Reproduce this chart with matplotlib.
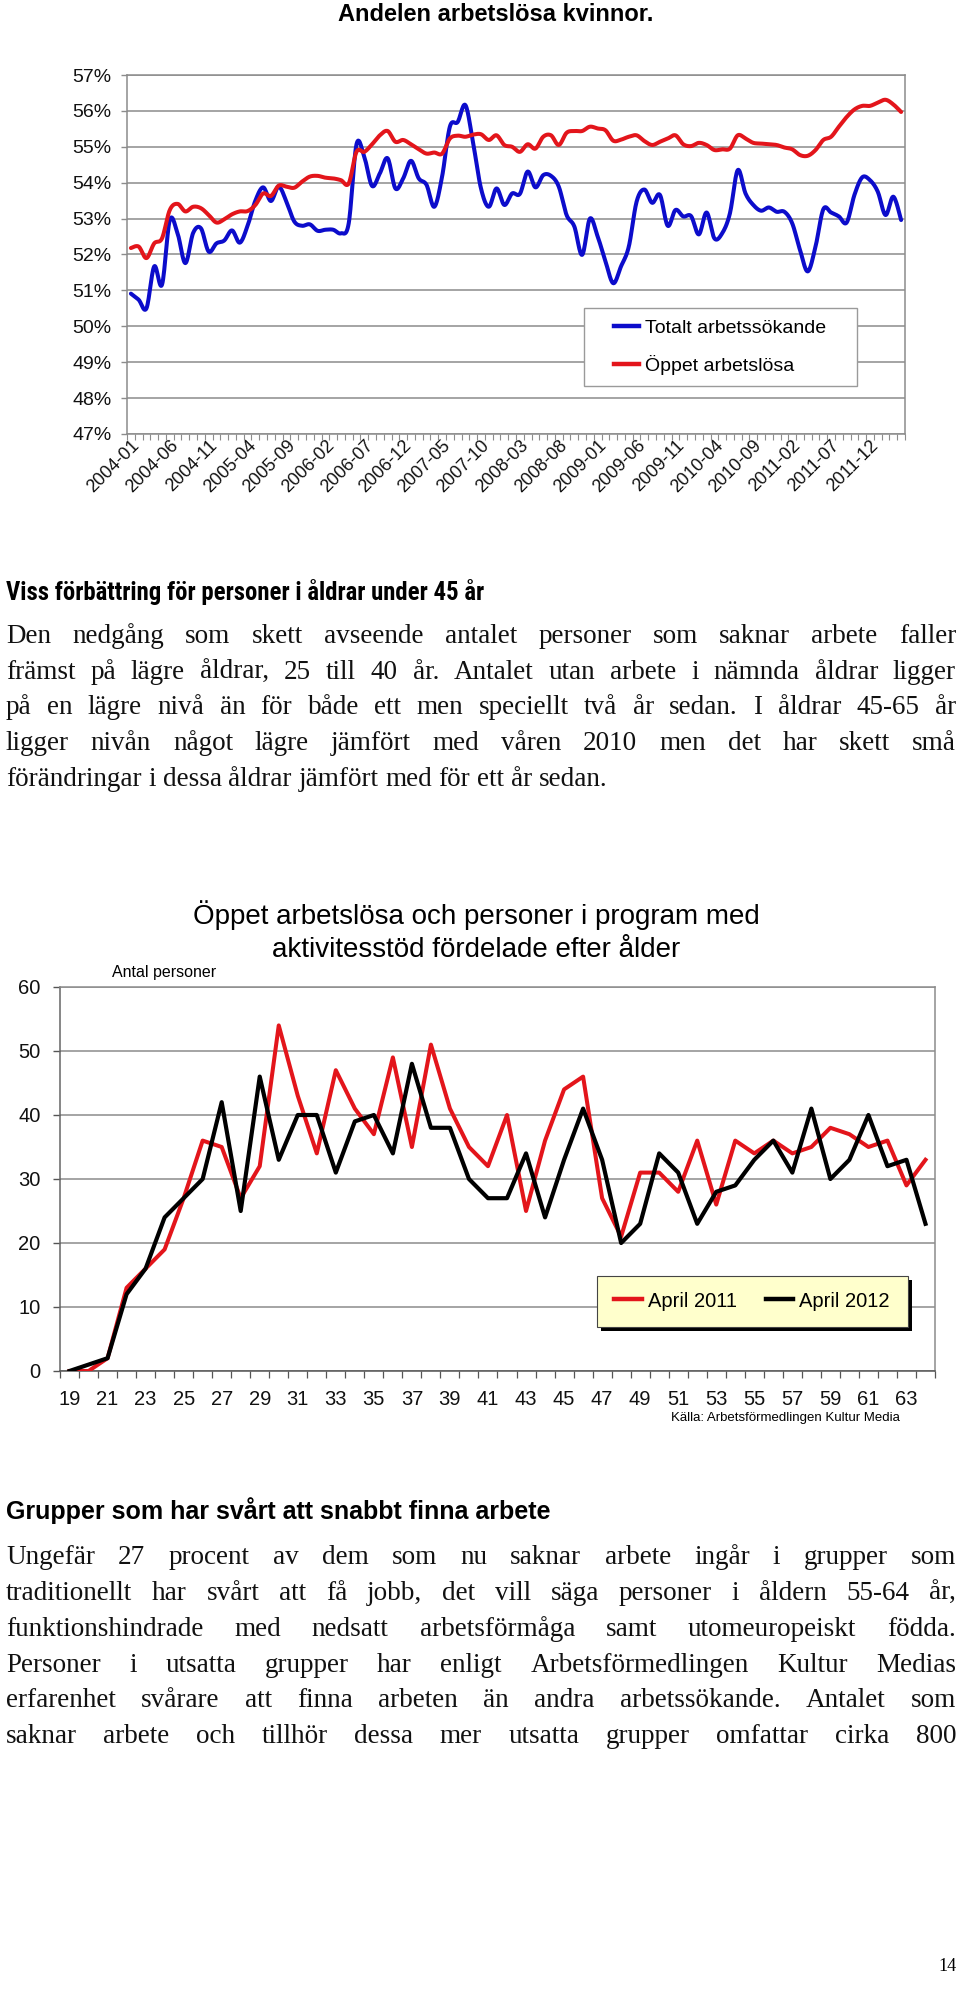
import matplotlib
matplotlib.use('Agg')
import matplotlib.pyplot as plt
import numpy as np
from matplotlib.patches import Rectangle
from matplotlib.lines import Line2D
from matplotlib import font_manager
from matplotlib.font_manager import FontProperties

W, H = 960, 2001
SANS = 'Liberation Sans'
SERIF = 'Liberation Serif'
plt.rcParams['font.family'] = [SANS, 'DejaVu Sans']


def find_condensed_bold():
    best = None
    for f in font_manager.fontManager.ttflist:
        nm = f.name + ' ' + str(f.fname)
        st = str(f.stretch).lower()
        cond = ('Narrow' in nm or 'Condensed' in nm or 'condensed' in st or 'narrow' in st)
        bold = (f.weight in ('bold', 700, 'heavy', 800) or 'Bold' in str(f.fname))
        if cond and bold and 'Italic' not in str(f.fname) and 'Oblique' not in str(f.fname):
            rank = 0 if ('Liberation' in nm or 'Arimo' in nm) else (1 if 'Roboto' in nm else 2)
            if best is None or rank < best[0]:
                best = (rank, f.fname)
    return best[1] if best else None


COND_BOLD = find_condensed_bold()

# ---------------- data: chart 1 (monthly shares, 2004-01 .. 2012-04) ----------------
months = [f"{y}-{m:02d}" for y in range(2004, 2013) for m in range(1, 13)][:100]
tick_labels = ["2004-01", "2004-06", "2004-11", "2005-04", "2005-09", "2006-02",
               "2006-07", "2006-12", "2007-05", "2007-10", "2008-03", "2008-08",
               "2009-01", "2009-06", "2009-11", "2010-04", "2010-09", "2011-02",
               "2011-07", "2011-12"]
y_ticks = [47, 48, 49, 50, 51, 52, 53, 54, 55, 56, 57]

totalt = [50.91, 50.74, 50.50, 51.67, 51.16, 52.96, 52.59, 51.76, 52.60, 52.73,
          52.08, 52.31, 52.39, 52.67, 52.33, 52.80, 53.50, 53.87, 53.49, 53.89,
          53.47, 52.92, 52.80, 52.84, 52.66, 52.69, 52.69, 52.59, 52.87, 55.07,
          54.72, 53.91, 54.26, 54.68, 53.84, 54.12, 54.61, 54.12, 53.94, 53.33,
          54.17, 55.56, 55.69, 56.16, 55.09, 53.84, 53.33, 53.84, 53.38, 53.70,
          53.69, 54.31, 53.87, 54.21, 54.19, 53.89, 53.10, 52.78, 51.99, 53.00,
          52.50, 51.81, 51.20, 51.67, 52.22, 53.47, 53.81, 53.44, 53.66, 52.80,
          53.24, 53.06, 53.07, 52.56, 53.17, 52.45, 52.59, 53.15, 54.35, 53.70,
          53.38, 53.22, 53.31, 53.19, 53.19, 52.87, 52.13, 51.53, 52.22, 53.26,
          53.17, 53.06, 52.89, 53.66, 54.15, 54.07, 53.75, 53.10, 53.61, 52.96]

oppet = [52.18, 52.22, 51.90, 52.31, 52.45, 53.24, 53.41, 53.20, 53.33, 53.29,
         53.10, 52.89, 52.98, 53.12, 53.20, 53.21, 53.38, 53.70, 53.63, 53.92,
         53.89, 53.86, 54.03, 54.17, 54.19, 54.14, 54.12, 54.07, 53.98, 54.86,
         54.86, 55.07, 55.32, 55.44, 55.14, 55.19, 55.07, 54.93, 54.81, 54.84,
         54.81, 55.23, 55.31, 55.28, 55.34, 55.35, 55.19, 55.32, 55.05, 55.00,
         54.86, 55.07, 54.95, 55.28, 55.32, 55.05, 55.39, 55.44, 55.44, 55.56,
         55.51, 55.46, 55.17, 55.20, 55.28, 55.32, 55.16, 55.05, 55.14, 55.23,
         55.32, 55.07, 55.02, 55.11, 55.05, 54.91, 54.93, 54.95, 55.32, 55.23,
         55.11, 55.09, 55.07, 55.05, 54.98, 54.93, 54.77, 54.75, 54.91, 55.19,
         55.28, 55.56, 55.83, 56.04, 56.14, 56.14, 56.23, 56.31, 56.18, 55.97]

# ---------------- data: chart 2 (persons by age) ----------------
ages = list(range(19, 65))
april_2011 = [0, 0, 2, 13, 16, 19, 27, 36, 35, 27, 32, 54, 43, 34, 47, 41, 37, 49,
              35, 51, 41, 35, 32, 40, 25, 36, 44, 46, 27, 21, 31, 31, 28, 36, 26,
              36, 34, 36, 34, 35, 38, 37, 35, 36, 29, 33]
april_2012 = [0, 1, 2, 12, 16, 24, 27, 30, 42, 25, 46, 33, 40, 40, 31, 39, 40, 34,
              48, 38, 38, 30, 27, 27, 34, 24, 33, 41, 33, 20, 23, 34, 31, 23, 28,
              29, 33, 36, 31, 41, 30, 33, 40, 32, 33, 23]
y2_ticks = [0, 10, 20, 30, 40, 50, 60]

BLUE = '#0C0CCB'
RED = '#E3151B'
GRID = '#8C8C8C'


def smooth(vals, n=14):
    """Excel-like smoothed line (Bezier with 1/6 tangents) through the points."""
    y = np.asarray(vals, float)
    x = np.arange(len(y), dtype=float)
    P = np.column_stack([x, y])
    Pe = np.vstack([P[0], P, P[-1]])
    t = np.linspace(0, 1, n, endpoint=False)[:, None]
    out = []
    for i in range(len(P) - 1):
        p0, p1, p2, p3 = Pe[i], Pe[i + 1], Pe[i + 2], Pe[i + 3]
        c1 = p1 + (p2 - p0) / 6.0
        c2 = p2 - (p3 - p1) / 6.0
        out.append((1 - t) ** 3 * p1 + 3 * (1 - t) ** 2 * t * c1 + 3 * (1 - t) * t ** 2 * c2 + t ** 3 * p2)
    out.append(P[-1:])
    return np.vstack(out)


def fx(x):
    return x / W


def fy(y):
    return 1 - y / H


fig = plt.figure(figsize=(W / 100, H / 100), dpi=100)
fig.patch.set_facecolor('white')

# ================= Chart 1 =================
ax1 = fig.add_axes([fx(127), fy(434), fx(905) - fx(127), fy(75) - fy(434)])
s_tot = smooth(totalt)
s_opp = smooth(oppet)
ax1.plot(s_tot[:, 0], s_tot[:, 1], color=BLUE, lw=2.9, solid_capstyle='round', zorder=3)
ax1.plot(s_opp[:, 0], s_opp[:, 1], color=RED, lw=2.9, solid_capstyle='round', zorder=3)
ax1.set_xlim(-0.5, len(months) - 0.5)
ax1.set_ylim(47, 57)
ax1.set_yticks(y_ticks)
ax1.set_yticklabels([f"{v}%" for v in y_ticks], fontsize=14, color='#111111')
ax1.yaxis.grid(True, color=GRID, lw=1.1)
ax1.set_axisbelow(True)
pos = [months.index(m) for m in tick_labels]
ax1.set_xticks(pos)
ax1.set_xticklabels(tick_labels, rotation=45, ha='right', va='top',
                    rotation_mode='anchor', fontsize=13, color='#111111')
ax1.set_xticks(np.arange(-0.5, len(months), 1), minor=True)
ax1.tick_params(axis='x', which='major', length=0, pad=2)
ax1.tick_params(axis='x', which='minor', length=4, color=GRID, width=0.8)
ax1.tick_params(axis='y', length=4, color=GRID, width=1, pad=7)
for sp in ax1.spines.values():
    sp.set_color(GRID)
    sp.set_linewidth(1.1)

# legend of chart 1
fig.add_artist(Rectangle((fx(584), fy(386)), fx(857) - fx(584), fy(308) - fy(386),
                         transform=fig.transFigure, facecolor='white',
                         edgecolor='#9A9A9A', lw=1.0, zorder=4))
h1 = [Line2D([], [], color=BLUE, lw=3.2), Line2D([], [], color=RED, lw=3.2)]
fig.legend(h1, ['Totalt arbetssökande', 'Öppet arbetslösa'], loc='center',
           bbox_to_anchor=(fx(720), fy(347)), bbox_transform=fig.transFigure,
           frameon=False, fontsize=14, handlelength=1.25, handletextpad=0.3,
           labelspacing=0.95, borderpad=0)

fig.text(fx(496), fy(21), 'Andelen arbetslösa kvinnor.', ha='center', va='baseline',
         fontsize=17, fontweight='bold', family=[SANS, 'DejaVu Sans'])

# ================= Chart 2 =================
ax2 = fig.add_axes([fx(60), fy(1371), fx(935) - fx(60), fy(987) - fy(1371)])
xi = np.arange(len(ages))
ax2.plot(xi, april_2011, color=RED, lw=2.9, zorder=3)
ax2.plot(xi, april_2012, color='black', lw=3.0, zorder=3)
ax2.set_xlim(-0.5, len(ages) - 0.5)
ax2.set_ylim(0, 60)
ax2.set_yticks(y2_ticks)
ax2.set_yticklabels([str(v) for v in y2_ticks], fontsize=14.5, color='#111111')
ax2.yaxis.grid(True, color=GRID, lw=1.1)
ax2.set_axisbelow(True)
ax2.set_xticks(xi[::2])
ax2.set_xticklabels([str(a) for a in ages[::2]], fontsize=14.5, color='#111111')
ax2.set_xticks(np.arange(-0.5, len(ages), 1), minor=True)
ax2.tick_params(axis='x', which='major', length=0, pad=14)
ax2.tick_params(axis='x', which='minor', length=5, color='#555555', width=0.9)
ax2.tick_params(axis='y', length=5, color='#555555', width=1, pad=9)
for k, sp in ax2.spines.items():
    sp.set_color(GRID)
    sp.set_linewidth(1.1)
ax2.spines['bottom'].set_color('#555555')
ax2.spines['left'].set_color('#666666')

# legend of chart 2 (yellow with shadow)
fig.add_artist(Rectangle((fx(601), fy(1331)), fx(912) - fx(601), fy(1280) - fy(1331),
                         transform=fig.transFigure, facecolor='black',
                         edgecolor='black', lw=0, zorder=4))
fig.add_artist(Rectangle((fx(597), fy(1327)), fx(908) - fx(597), fy(1276) - fy(1327),
                         transform=fig.transFigure, facecolor='#FFFFCC',
                         edgecolor='#444444', lw=0.8, zorder=4.1))
h2 = [Line2D([], [], color=RED, lw=3.2), Line2D([], [], color='black', lw=3.2)]
fig.legend(h2, ['April 2011', 'April 2012'], loc='center', ncol=2,
           bbox_to_anchor=(fx(752), fy(1301)), bbox_transform=fig.transFigure,
           frameon=False, fontsize=14.5, handlelength=1.35, handletextpad=0.3,
           columnspacing=1.45, borderpad=0)

fig.text(fx(476), fy(924), 'Öppet arbetslösa och personer i program med', ha='center',
         va='baseline', fontsize=20)
fig.text(fx(476), fy(957), 'aktivitesstöd fördelade efter ålder', ha='center',
         va='baseline', fontsize=20)
fig.text(fx(112), fy(977), 'Antal personer', ha='left', va='baseline', fontsize=11.5)
fig.text(fx(900), fy(1421), 'Källa: Arbetsförmedlingen Kultur Media', ha='right',
         va='baseline', fontsize=9.5)

# ================= Body text =================
renderer = fig.canvas.get_renderer()


def text_width(s, **kw):
    t = fig.text(0, 0, s, **kw)
    w = t.get_window_extent(renderer).width
    t.remove()
    return w


def justified(lines, x0, x1, baselines, props, justify_last=False):
    sp = text_width('a a', **props) - text_width('aa', **props)
    for k, (line, yb) in enumerate(zip(lines, baselines)):
        words = line.split(' ')
        ts = [fig.text(0, 0, w, ha='left', va='baseline', **props) for w in words]
        ws = [t.get_window_extent(renderer).width for t in ts]
        last = (k == len(lines) - 1) and not justify_last
        if len(words) > 1 and not last:
            gap = max((x1 - x0 - sum(ws)) / (len(words) - 1), sp * 0.4)
        else:
            gap = sp
        x = x0
        for t, w in zip(ts, ws):
            t.set_position((fx(x), fy(yb)))
            x += w + gap


# heading 1 (condensed bold)
HEAD1 = 'Viss förbättring för personer i åldrar under 45 år'
if COND_BOLD:
    def hprops(size):
        return dict(fontproperties=FontProperties(fname=COND_BOLD, size=size))
else:
    def hprops(size):
        return dict(fontsize=size, fontweight='bold', family=[SANS, 'DejaVu Sans'])
w18 = text_width(HEAD1, **hprops(18))
fs_h1 = min(18 * 479 / w18, 19)
fig.text(fx(6), fy(600), HEAD1, ha='left', va='baseline', **hprops(fs_h1))

para1 = ["Den nedgång som skett avseende antalet personer som saknar arbete faller",
         "främst på lägre åldrar, 25 till 40 år. Antalet utan arbete i nämnda åldrar ligger",
         "på en lägre nivå än för både ett men speciellt två år sedan. I åldrar 45-65 år",
         "ligger nivån något lägre jämfört med våren 2010 men det har skett små",
         "förändringar i dessa åldrar jämfört med för ett år sedan."]
justified(para1, 6, 956, [643, 679, 714, 750, 786],
          dict(fontsize=19.5, family=[SERIF, 'DejaVu Serif'], color='#111111'))

fig.text(fx(6), fy(1519), 'Grupper som har svårt att snabbt finna arbete', ha='left',
         va='baseline', fontsize=18, fontweight='bold')

para2 = ["Ungefär 27 procent av dem som nu saknar arbete ingår i grupper som",
         "traditionellt har svårt att få jobb, det vill säga personer i åldern 55-64 år,",
         "funktionshindrade med nedsatt arbetsförmåga samt utomeuropeiskt födda.",
         "Personer i utsatta grupper har enligt Arbetsförmedlingen Kultur Medias",
         "erfarenhet svårare att finna arbeten än andra arbetssökande. Antalet som",
         "saknar arbete och tillhör dessa mer utsatta grupper omfattar cirka 800"]
justified(para2, 6, 956, [1564, 1600, 1636, 1672, 1707, 1743],
          dict(fontsize=19.5, family=[SERIF, 'DejaVu Serif'], color='#111111'),
          justify_last=True)

fig.text(fx(957), fy(1971), '14', ha='right', va='baseline', fontsize=13,
         family=[SERIF, 'DejaVu Serif'])

fig.savefig('out.png', dpi=100, facecolor='white')
